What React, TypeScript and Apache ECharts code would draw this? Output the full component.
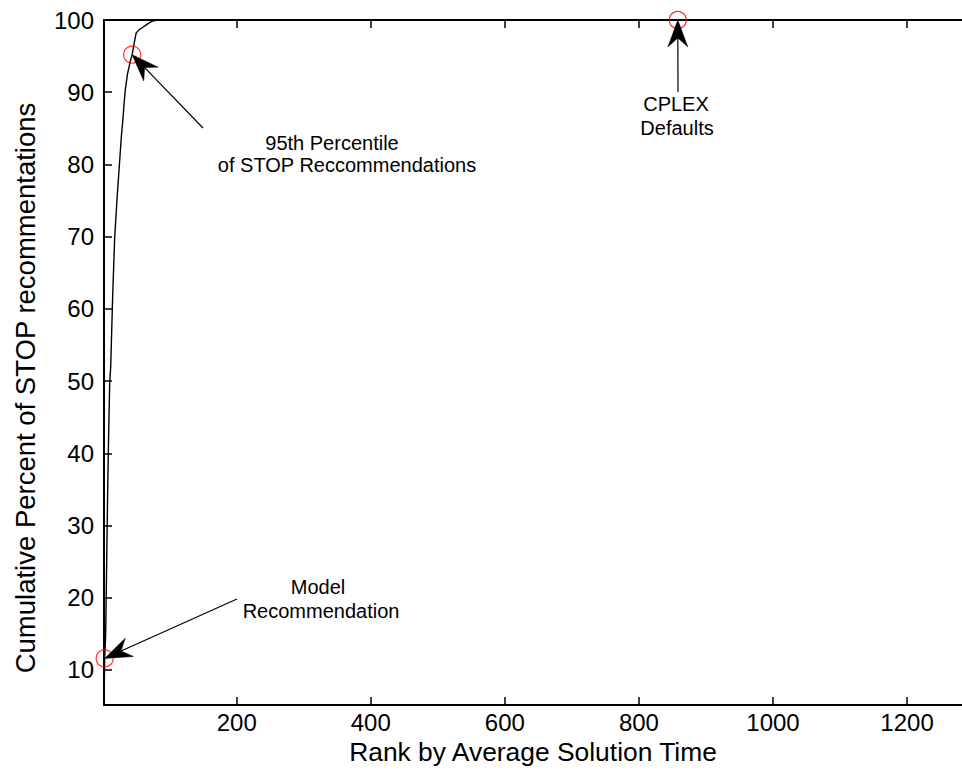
import React, { useEffect, useRef } from "react";
import * as echarts from "echarts";

// Cumulative curve (rank, percent)
const rankValues = [2, 3, 4.5, 6, 7.5, 9, 10.5, 12, 15, 18, 22, 25, 28, 30, 32, 34, 37, 41, 44, 47, 50, 55, 60, 66, 73, 81, 1282];
const cumulativePercent = [5.2, 11.6, 15, 25, 35, 43, 49.7, 52, 62, 70, 76, 80, 84, 86, 88.5, 90.5, 92.5, 94.2, 95.2, 96.8, 98.2, 98.7, 99, 99.4, 99.8, 100, 100];

// Highlighted points
const markerRanks = [3, 44, 858];
const markerPercents = [11.6, 95.2, 100];
const markerLabels = [["Model", "Recommendation"], ["95th Percentile", "of STOP Reccommendations"], ["CPLEX", "Defaults"]];

const xTicks = [200, 400, 600, 800, 1000, 1200];
const yTicks = [10, 20, 30, 40, 50, 60, 70, 80, 90, 100];

const FONT = '"Liberation Sans", Arial, Helvetica, sans-serif';

export default function App() {
  const ref = useRef<HTMLDivElement>(null);
  useEffect(() => {
    const chart = echarts.init(ref.current!, null, { renderer: "svg" });
    const lineData = rankValues.map((r, i) => [r, cumulativePercent[i]]);
    const markerData = markerRanks.map((r, i) => [r, markerPercents[i]]);
    const axisCommon = {
      type: "value",
      min: 2,
      max: 1282,
      splitLine: { show: false },
      axisLine: { show: true, onZero: false, lineStyle: { color: "#000", width: 2 } },
      axisTick: { show: true, inside: true, length: 8, customValues: xTicks, lineStyle: { color: "#000", width: 1.5 } },
    };
    chart.setOption({
      animation: false,
      backgroundColor: "#fff",
      grid: { left: 104, right: 0, top: 20, bottom: 73, containLabel: false, outerBoundsMode: "none" },
      xAxis: [
        {
          ...axisCommon,
          position: "bottom",
          axisLabel: { show: true, customValues: xTicks, formatter: (v: number) => String(v), fontSize: 24, color: "#000", fontFamily: FONT, margin: 5 },
          name: "Rank by Average Solution Time",
          nameLocation: "middle",
          nameGap: 30,
          nameTextStyle: { fontSize: 26.4, color: "#000", fontFamily: FONT },
        },
        {
          ...axisCommon,
          position: "top",
          axisLabel: { show: false, customValues: xTicks },
        },
      ],
      yAxis: {
        type: "value",
        min: 5.15,
        max: 100,
        splitLine: { show: false },
        axisLine: { show: true, onZero: false, lineStyle: { color: "#000", width: 2 } },
        axisTick: { show: true, inside: true, length: 8, customValues: yTicks, lineStyle: { color: "#000", width: 1.5 } },
        axisLabel: { show: true, customValues: yTicks, formatter: (v: number) => String(v), fontSize: 24, color: "#000", fontFamily: FONT, margin: 10 },
      },
      series: [
        {
          type: "line",
          data: lineData,
          showSymbol: false,
          symbol: "none",
          lineStyle: { color: "#000", width: 1.4 },
          z: 2,
        },
        {
          type: "scatter",
          data: markerData,
          symbol: "circle",
          symbolSize: 17,
          itemStyle: { color: "rgba(0,0,0,0)", borderColor: "#ff0000", borderWidth: 1.2 },
          z: 3,
        },
      ],
    });

    // Annotation arrows: tail positions (pixels) and text centers
    const tails = [[237, 599], [203, 128], [678, 92]];
    const textPos = [
      [[318, 587], [321, 611]],
      [[332, 143], [347, 165]],
      [[676, 104], [677, 128]],
    ];
    const graphics: any[] = [
      {
        type: "text",
        x: 25,
        y: 388,
        rotation: Math.PI / 2,
        style: { text: "Cumulative Percent of STOP recommentations", fill: "#000", fontSize: 27.5, fontFamily: FONT, align: "center", verticalAlign: "middle" },
        z: 10,
      },
    ];
    const L = 27, W = 10, B = 18;
    markerData.forEach((pt, i) => {
      const tip = chart.convertToPixel({ seriesIndex: 1 }, pt) as number[];
      const [tx, ty] = tails[i];
      const dx = tip[0] - tx, dy = tip[1] - ty;
      const len = Math.hypot(dx, dy);
      const ux = dx / len, uy = dy / len;
      const nx = -uy, ny = ux;
      const back = [tip[0] - B * ux, tip[1] - B * uy];
      graphics.push({
        type: "line",
        shape: { x1: tx, y1: ty, x2: back[0], y2: back[1] },
        style: { stroke: "#000", lineWidth: 1.2 },
        z: 10,
      });
      graphics.push({
        type: "polygon",
        shape: {
          points: [
            [tip[0], tip[1]],
            [tip[0] - L * ux + W * nx, tip[1] - L * uy + W * ny],
            back,
            [tip[0] - L * ux - W * nx, tip[1] - L * uy - W * ny],
          ],
        },
        style: { fill: "#000", stroke: "#000", lineWidth: 0.5 },
        z: 10,
      });
      markerLabels[i].forEach((t, j) => {
        graphics.push({
          type: "text",
          x: textPos[i][j][0],
          y: textPos[i][j][1],
          style: { text: t, fill: "#000", fontSize: 20, fontFamily: FONT, align: "center", verticalAlign: "middle" },
          z: 10,
        });
      });
    });
    chart.setOption({ graphic: graphics });
    return () => chart.dispose();
  }, []);
  return <div ref={ref} style={{ position: "absolute", left: 0, top: 0, width: 962, height: 778 }} />;
}
